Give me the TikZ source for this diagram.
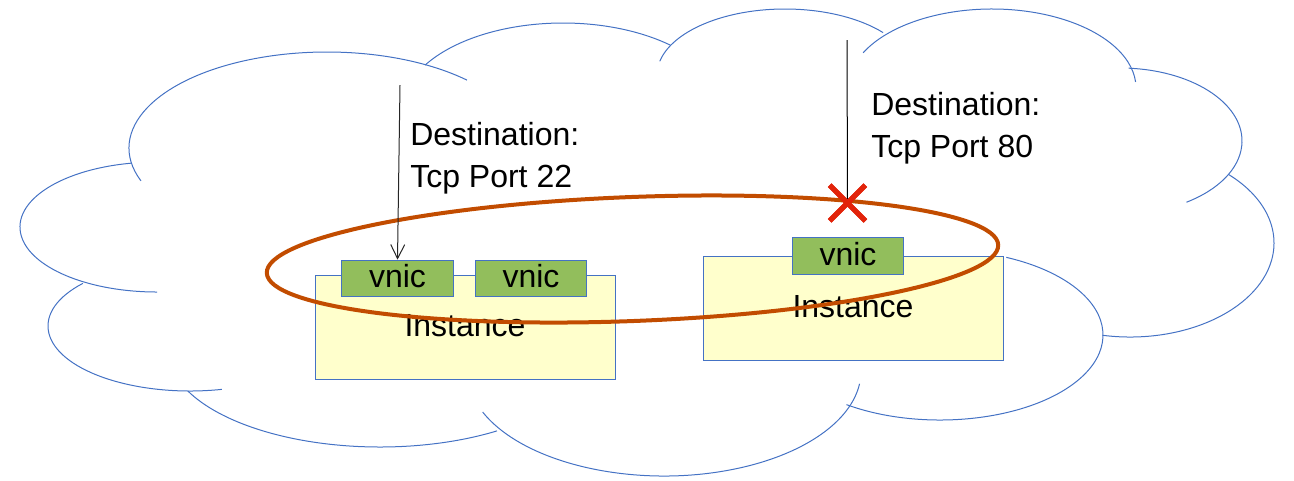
\documentclass[tikz,border=0pt]{standalone}
\usepackage{fontspec}
\setmainfont{Liberation Sans}
\usetikzlibrary{arrows.meta,shapes.misc}
\definecolor{cloudblue}{HTML}{4472C4}
\definecolor{instfill}{HTML}{FFFFCC}
\definecolor{vnicgreen}{HTML}{92BE5C}
\definecolor{ringorange}{HTML}{C24C00}
\definecolor{xred}{HTML}{E2230A}
\tikzset{
  cloudline/.style={draw=cloudblue, line width=0.75pt},
  instbox/.style={draw=cloudblue, fill=instfill, line width=0.75pt, minimum width=225pt, minimum height=78pt, inner sep=0pt, text height=13.5pt, text depth=0pt},
  vnicbox/.style={draw=cloudblue, fill=vnicgreen, line width=0.75pt, minimum width=83.5pt, minimum height=27.5pt, inner sep=0pt, text height=13.5pt, text depth=0pt},
  desttext/.style={align=left, anchor=base west, inner sep=0pt},
  ring/.style={draw=ringorange, line width=3pt},
  flowline/.style={draw=black!85, line width=0.75pt},
  blockmark/.style={cross out, draw=xred, line width=3.8pt, minimum width=23pt, minimum height=23pt, inner sep=0pt}
}
\begin{document}
\begin{tikzpicture}[x=0.75pt, y=-0.75pt, font=\fontsize{24}{31.5}\selectfont]
\useasboundingbox (0,0) rectangle (1294,480);
% cloud, one arc per puff
\draw[cloudline] (327,148) ++(160:198 and 96) arc[start angle=160, end angle=315, x radius=198, y radius=96];
\draw[cloudline] (157,227) ++(259:137 and 65) arc[start angle=259, end angle=90, x radius=137, y radius=65];
\draw[cloudline] (190,326) ++(221:142 and 65) arc[start angle=221, end angle=77, x radius=142, y radius=65];
\draw[cloudline] (380,350) ++(155:212 and 97) arc[start angle=155, end angle=56.5, x radius=212, y radius=97];
\draw[cloudline] (664,371) ++(157:197 and 105) arc[start angle=157, end angle=7, x radius=197, y radius=105];
\draw[cloudline] (940,335) ++(125:163 and 85) arc[start angle=125, end angle=-66, x radius=163, y radius=85];
\draw[cloudline] (1130,243) ++(101:144 and 94) arc[start angle=101, end angle=-47, x radius=144, y radius=94];
\draw[cloudline] (1120,141) ++(-86:122 and 73) arc[start angle=-86, end angle=57, x radius=122, y radius=73];
\draw[cloudline] (992,88) ++(206.5:144 and 79) arc[start angle=206.5, end angle=355.6, x radius=144, y radius=79];
\draw[cloudline] (785,75) ++(-40:128 and 66) arc[start angle=-40, end angle=-168, x radius=128, y radius=66];
\draw[cloudline] (563,110) ++(211:161 and 87) arc[start angle=211, end angle=312, x radius=161, y radius=87];
%
\node[instbox] (inst1) at (465,327) {Instance};
\node[instbox] (inst2) at (853,308) {Instance};
\node[vnicbox] (vnic1) at (397.5,278.5) {vnic};
\node[vnicbox] (vnic2) at (531,278.5) {vnic};
\node[vnicbox] (vnic3) at (848,256) {vnic};
%
\draw[ring, rotate around={2.2:(632.5,259)}] (632.5,259) ellipse[x radius=366, y radius=62];
%
\node[desttext] (dest22) at (410,187) {Destination:\\Tcp Port 22};
\node[desttext] (dest80) at (871,157) {Destination:\\Tcp Port 80};
%
\coordinate (src22) at (400,85);
\coordinate (src80) at (847,40);
\draw[flowline, -{Straight Barb[length=10.5pt, width=10.5pt]}] (src22) -- (vnic1.north);
\node[blockmark] (block80) at (847.5,203) {};
\draw[draw=black, line width=0.75pt] (src80) -- (block80.center);
\node[blockmark] at (block80) {};
\end{tikzpicture}
\end{document}
